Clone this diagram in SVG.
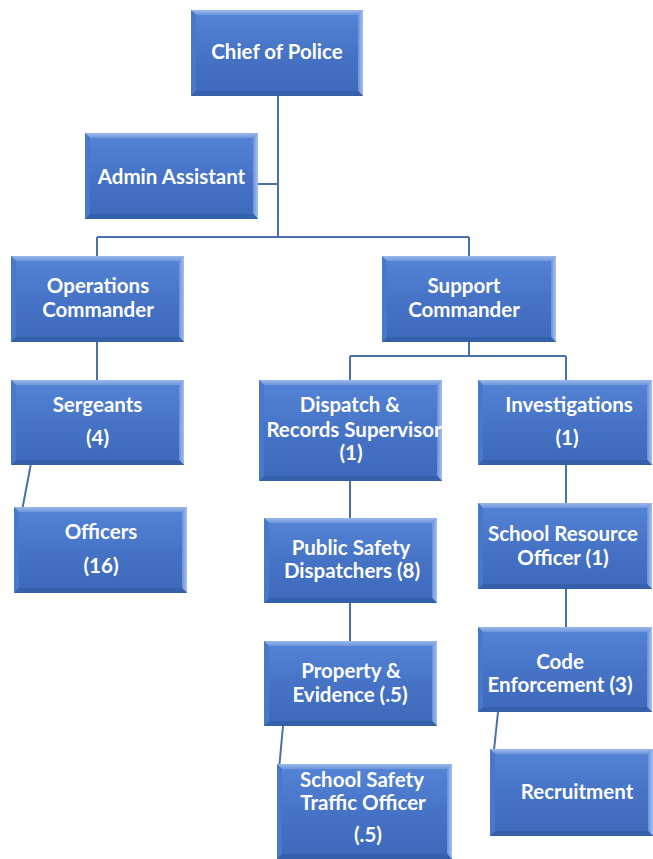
<svg xmlns="http://www.w3.org/2000/svg" width="653" height="859" viewBox="0 0 653 859">
<defs>
<linearGradient id="g" x1="0" y1="0" x2="0" y2="1">
<stop offset="0" stop-color="#5585d6"/>
<stop offset="0.5" stop-color="#4673c6"/>
<stop offset="1" stop-color="#3d69ba"/>
</linearGradient>
<linearGradient id="gt" x1="0" y1="0" x2="0" y2="1">
<stop offset="0" stop-color="#9ab8ec"/>
<stop offset="1" stop-color="#6e96dc"/>
</linearGradient>
<linearGradient id="gr" x1="1" y1="0" x2="0" y2="0">
<stop offset="0" stop-color="#a7c0ee"/>
<stop offset="1" stop-color="#6a92d8"/>
</linearGradient>
</defs>
<style>
.box{fill:url(#g)}
.bt{fill:url(#gt)}
.br{fill:url(#gr)}
.bb{fill:#3560ab}
.bl{fill:#4a78c8}
.t{font-family:Lato,"Liberation Sans",sans-serif;font-weight:bold;font-size:20.5px;fill:#ffffff;text-anchor:middle}
.c{fill:none;stroke:#4a70ac;stroke-width:2}
</style>
<g id="connectors">
<path class="c" d="M278 96V237M258 184H278M97 237H469M97 237V256M469 237V256M97 342V380M469 342V356M350 356H566M350 356V380M566 356V380M30.7 465L22.7 507M350 481V518M350 603V641M566 465V503M566 589V627M283 726L279.5 764M498 712L494 750"/>
</g>
<g id="chief" transform="translate(191,10)">
<rect class="box" width="172" height="86"/>
<polygon class="bt" points="0,0 172,0 167,5 5,5"/>
<polygon class="br" points="172,0 172,86 167,81 167,5"/>
<polygon class="bb" points="0,86 172,86 167,81 5,81"/>
<polygon class="bl" points="0,0 5,5 5,81 0,86"/>
<text class="t" x="86" y="49">Chief of Police</text>
</g>
<g id="admin" transform="translate(85,133)">
<rect class="box" width="173" height="86"/>
<polygon class="bt" points="0,0 173,0 168,5 5,5"/>
<polygon class="br" points="173,0 173,86 168,81 168,5"/>
<polygon class="bb" points="0,86 173,86 168,81 5,81"/>
<polygon class="bl" points="0,0 5,5 5,81 0,86"/>
<text class="t" x="86.5" y="51">Admin Assistant</text>
</g>
<g id="ops" transform="translate(11,256)">
<rect class="box" width="173" height="86"/>
<polygon class="bt" points="0,0 173,0 168,5 5,5"/>
<polygon class="br" points="173,0 173,86 168,81 168,5"/>
<polygon class="bb" points="0,86 173,86 168,81 5,81"/>
<polygon class="bl" points="0,0 5,5 5,81 0,86"/>
<text class="t" x="87" y="37">Operations</text>
<text class="t" x="87" y="61">Commander</text>
</g>
<g id="support" transform="translate(382,256)">
<rect class="box" width="174" height="86"/>
<polygon class="bt" points="0,0 174,0 169,5 5,5"/>
<polygon class="br" points="174,0 174,86 169,81 169,5"/>
<polygon class="bb" points="0,86 174,86 169,81 5,81"/>
<polygon class="bl" points="0,0 5,5 5,81 0,86"/>
<text class="t" x="82" y="37">Support</text>
<text class="t" x="82" y="61">Commander</text>
</g>
<g id="sergeants" transform="translate(11,380)">
<rect class="box" width="173" height="85"/>
<polygon class="bt" points="0,0 173,0 168,5 5,5"/>
<polygon class="br" points="173,0 173,85 168,80 168,5"/>
<polygon class="bb" points="0,85 173,85 168,80 5,80"/>
<polygon class="bl" points="0,0 5,5 5,80 0,85"/>
<text class="t" x="86.5" y="32">Sergeants</text>
<text class="t" x="86.5" y="65">(4)</text>
</g>
<g id="officers" transform="translate(14,507)">
<rect class="box" width="173" height="86"/>
<polygon class="bt" points="0,0 173,0 168,5 5,5"/>
<polygon class="br" points="173,0 173,86 168,81 168,5"/>
<polygon class="bb" points="0,86 173,86 168,81 5,81"/>
<polygon class="bl" points="0,0 5,5 5,81 0,86"/>
<text class="t" x="87" y="32">Officers</text>
<text class="t" x="87" y="66">(16)</text>
</g>
<g id="dispatch" transform="translate(259,380)">
<rect class="box" width="183" height="101"/>
<polygon class="bt" points="0,0 183,0 178,5 5,5"/>
<polygon class="br" points="183,0 183,101 178,96 178,5"/>
<polygon class="bb" points="0,101 183,101 178,96 5,96"/>
<polygon class="bl" points="0,0 5,5 5,96 0,101"/>
<text class="t" x="91" y="32">Dispatch &amp;</text>
<text class="t" x="95" y="57">Records Supervisor</text>
<text class="t" x="92" y="80">(1)</text>
</g>
<g id="investigations" transform="translate(478,380)">
<rect class="box" width="174" height="85"/>
<polygon class="bt" points="0,0 174,0 169,5 5,5"/>
<polygon class="br" points="174,0 174,85 169,80 169,5"/>
<polygon class="bb" points="0,85 174,85 169,80 5,80"/>
<polygon class="bl" points="0,0 5,5 5,80 0,85"/>
<text class="t" x="91" y="32">Investigations</text>
<text class="t" x="89" y="65">(1)</text>
</g>
<g id="dispatchers" transform="translate(264,518)">
<rect class="box" width="173" height="85"/>
<polygon class="bt" points="0,0 173,0 168,5 5,5"/>
<polygon class="br" points="173,0 173,85 168,80 168,5"/>
<polygon class="bb" points="0,85 173,85 168,80 5,80"/>
<polygon class="bl" points="0,0 5,5 5,80 0,85"/>
<text class="t" x="87" y="37">Public Safety</text>
<text class="t" x="88" y="60">Dispatchers (8)</text>
</g>
<g id="sro" transform="translate(478,503)">
<rect class="box" width="174" height="86"/>
<polygon class="bt" points="0,0 174,0 169,5 5,5"/>
<polygon class="br" points="174,0 174,86 169,81 169,5"/>
<polygon class="bb" points="0,86 174,86 169,81 5,81"/>
<polygon class="bl" points="0,0 5,5 5,81 0,86"/>
<text class="t" x="85" y="38">School Resource</text>
<text class="t" x="85" y="62">Officer (1)</text>
</g>
<g id="property" transform="translate(264,641)">
<rect class="box" width="173" height="85"/>
<polygon class="bt" points="0,0 173,0 168,5 5,5"/>
<polygon class="br" points="173,0 173,85 168,80 168,5"/>
<polygon class="bb" points="0,85 173,85 168,80 5,80"/>
<polygon class="bl" points="0,0 5,5 5,80 0,85"/>
<text class="t" x="87" y="37">Property &amp;</text>
<text class="t" x="86" y="61">Evidence (.5)</text>
</g>
<g id="code" transform="translate(478,627)">
<rect class="box" width="174" height="85"/>
<polygon class="bt" points="0,0 174,0 169,5 5,5"/>
<polygon class="br" points="174,0 174,85 169,80 169,5"/>
<polygon class="bb" points="0,85 174,85 169,80 5,80"/>
<polygon class="bl" points="0,0 5,5 5,80 0,85"/>
<text class="t" x="82" y="42">Code</text>
<text class="t" x="82" y="65">Enforcement (3)</text>
</g>
<g id="schoolsafety" transform="translate(277,764)">
<rect class="box" width="175" height="95"/>
<polygon class="bt" points="0,0 175,0 170,5 5,5"/>
<polygon class="br" points="175,0 175,95 170,90 170,5"/>
<polygon class="bb" points="0,95 175,95 170,90 5,90"/>
<polygon class="bl" points="0,0 5,5 5,90 0,95"/>
<text class="t" x="85" y="23">School Safety</text>
<text class="t" x="86" y="46">Traffic Officer</text>
<text class="t" x="91" y="78">(.5)</text>
</g>
<g id="recruitment" transform="translate(490,749)">
<rect class="box" width="163" height="87"/>
<polygon class="bt" points="0,0 163,0 158,5 5,5"/>
<polygon class="br" points="163,0 163,87 158,82 158,5"/>
<polygon class="bb" points="0,87 163,87 158,82 5,82"/>
<polygon class="bl" points="0,0 5,5 5,82 0,87"/>
<text class="t" x="87" y="50">Recruitment</text>
</g>
</svg>
